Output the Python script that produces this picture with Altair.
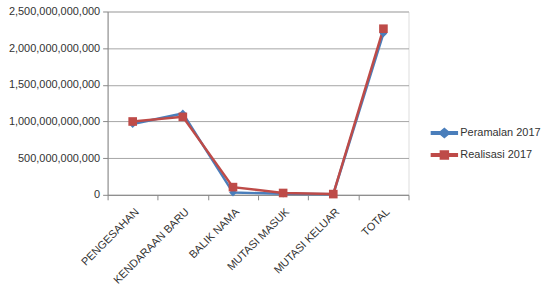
import altair as alt
import pandas as pd

categories = ["PENGESAHAN", "KENDARAAN BARU", "BALIK NAMA", "MUTASI MASUK", "MUTASI KELUAR", "TOTAL"]
peramalan = [965e9, 1110e9, 30e9, 15e9, 8e9, 2200e9]
realisasi = [1000e9, 1063e9, 105e9, 25e9, 10e9, 2265e9]
series = ["Peramalan 2017", "Realisasi 2017"]
colors = ["#4A7EBB", "#BE4B48"]

rows = []
for c, v in zip(categories, peramalan):
    rows.append({"cat": c, "val": v, "series": series[0]})
for c, v in zip(categories, realisasi):
    rows.append({"cat": c, "val": v, "series": series[1]})
df = pd.DataFrame(rows)

FONT = "Liberation Sans"
diamond_leg = "M-1.3,-0.12L-0.4,-0.12L0,-0.45L0.4,-0.12L1.3,-0.12L1.3,0.12L0.4,0.12L0,0.45L-0.4,0.12L-1.3,0.12Z"
square_leg = "M-1.3,-0.12L-0.4,-0.12L-0.4,-0.4L0.4,-0.4L0.4,-0.12L1.3,-0.12L1.3,0.12L0.4,0.12L0.4,0.4L-0.4,0.4L-0.4,0.12L-1.3,0.12Z"

x = alt.X("cat:N", sort=categories, title=None,
          scale=alt.Scale(paddingInner=0, paddingOuter=0),
          axis=alt.Axis(labelAngle=-45, tickBand="extent", grid=False, labelFont=FONT,
                        labelFontSize=11, labelColor="#333333", domainColor="#888888",
                        tickColor="#888888", tickSize=5, labelPadding=6))
y = alt.Y("val:Q", title=None,
          scale=alt.Scale(domain=[0, 2.5e12], nice=False),
          axis=alt.Axis(values=[0, 5e11, 1e12, 1.5e12, 2e12, 2.5e12], format=",.0f",
                        labelFont=FONT, labelFontSize=11, labelColor="#333333",
                        domainColor="#888888", tickColor="#888888", tickSize=5,
                        gridColor="#A6A6A6", labelPadding=3))
color_nolegend = alt.Color("series:N", scale=alt.Scale(domain=series, range=colors), legend=None)

base = alt.Chart(df)
lines = base.mark_line(strokeWidth=2.5).encode(x=x, y=y, color=color_nolegend,
                                               order=alt.Order("series:N"))
pts_a = base.transform_filter(alt.datum.series == series[0]).mark_point(
    shape="diamond", filled=True, size=60, opacity=1).encode(x=x, y=y, color=color_nolegend)
pts_b = base.transform_filter(alt.datum.series == series[1]).mark_point(
    shape="square", filled=True, size=75, opacity=1).encode(x=x, y=y, color=color_nolegend)

legend = alt.Legend(title=None, orient="none", legendX=327, legendY=111,
                    labelFont=FONT, labelFontSize=11, labelColor="#333333",
                    symbolSize=400, rowPadding=3, symbolOpacity=1, labelOffset=5)
leg = base.mark_point(filled=True, opacity=0, size=400).encode(
    x=x, y=y,
    color=alt.Color("series:N", scale=alt.Scale(domain=series, range=colors), legend=legend),
    shape=alt.Shape("series:N", scale=alt.Scale(domain=series, range=[diamond_leg, square_leg]),
                    legend=legend),
)

chart = alt.layer(leg, lines, pts_a, pts_b).properties(
    width=302, height=184,
    padding={"left": 8, "top": 5, "right": 5, "bottom": 5},
).configure_view(stroke=None).configure(background="white")

chart.save("out.html", embed_options={"renderer": "svg", "actions": False})
